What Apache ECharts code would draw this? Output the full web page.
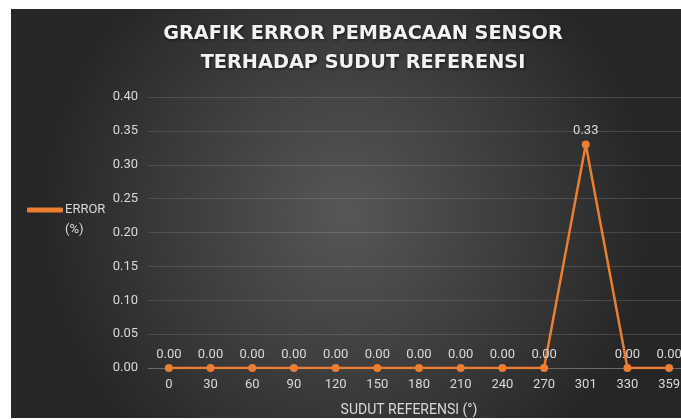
<!DOCTYPE html>
<html>
<head>
<meta charset="utf-8">
<script src="https://cdn.jsdelivr.net/npm/echarts@6/dist/echarts.min.js"></script>
<style>
  html, body { margin: 0; padding: 0; background: #fff; }
  #main { position: absolute; left: 11px; top: 9px; width: 670px; height: 409px; }
</style>
</head>
<body>
<div id="main"></div>
<script>
var categories = ["0", "30", "60", "90", "120", "150", "180", "210", "240", "270", "301", "330", "359"];
var errorValues = [0, 0, 0, 0, 0, 0, 0, 0, 0, 0, 0.33, 0, 0];
var yTicks = [0, 0.05, 0.1, 0.15, 0.2, 0.25, 0.3, 0.35, 0.4];

var myChart = echarts.init(document.getElementById("main"));
myChart.setOption({
  backgroundColor: {
    type: "radial", x: 0.5, y: 0.5, r: 0.75,
    colorStops: [
      { offset: 0, color: "#575757" },
      { offset: 1, color: "#262626" }
    ]
  },
  title: {
    text: "GRAFIK ERROR PEMBACAAN SENSOR\nTERHADAP SUDUT REFERENSI",
    left: 347,
    top: 6,
    textAlign: "center",
    textStyle: {
      fontFamily: "DejaVu Sans",
      fontWeight: "bold",
      fontSize: 19.3,
      lineHeight: 28.5,
      color: "#f2f2f2",
      textShadowColor: "rgba(0,0,0,0.6)",
      textShadowBlur: 3,
      textShadowOffsetX: 1,
      textShadowOffsetY: 1
    }
  },
  legend: {
    left: 16,
    top: 171,
    padding: 0,
    itemWidth: 36,
    itemHeight: 5,
    icon: "roundRect",
    formatter: function () { return "\nERROR\n(%)"; },
    textStyle: {
      fontFamily: "Roboto",
      fontSize: 13,
      lineHeight: 20,
      color: "#d9d9d9",
      padding: [0, 0, 0, -3]
    },
    data: ["ERROR (%)"]
  },
  grid: { left: 137, width: 542, top: 88, bottom: 50, outerBoundsMode: "none", containLabel: false },
  xAxis: {
    type: "category",
    data: categories,
    boundaryGap: true,
    name: "SUDUT REFERENSI (°)",
    nameLocation: "middle",
    nameGap: 35,
    nameTextStyle: { fontFamily: "Roboto", fontSize: 14, color: "#d9d9d9", padding: [0, 20, 0, 0] },
    axisLine: { show: true, lineStyle: { color: "#6a6a6a", width: 1 } },
    axisTick: { show: false },
    axisLabel: { fontFamily: "Roboto", fontSize: 13, color: "#d9d9d9", margin: 10 }
  },
  yAxis: {
    type: "value",
    min: yTicks[0],
    max: yTicks[yTicks.length - 1],
    interval: 0.05,
    axisLine: { show: false },
    axisTick: { show: false },
    axisLabel: {
      fontFamily: "Roboto", fontSize: 13, color: "#d9d9d9", margin: 10,
      formatter: function (v) { return v.toFixed(2); }
    },
    splitLine: { lineStyle: { color: "rgba(255,255,255,0.13)", width: 1 } }
  },
  series: [
    {
      name: "ERROR (%)",
      type: "line",
      data: errorValues,
      symbol: "circle",
      symbolSize: 8,
      itemStyle: { color: "#ed7d31" },
      lineStyle: { color: "#ed7d31", width: 2.5 },
      label: {
        show: true,
        position: "top",
        distance: 3,
        fontFamily: "Roboto",
        fontSize: 13,
        color: "#d9d9d9",
        formatter: function (p) { return p.value.toFixed(2); }
      },
      animation: false
    }
  ]
});
</script>
</body>
</html>
